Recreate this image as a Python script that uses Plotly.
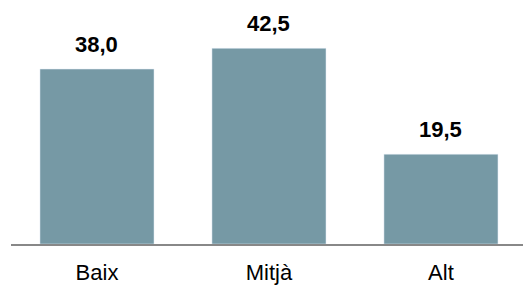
import plotly.graph_objects as go

categories = ["Baix", "Mitjà", "Alt"]
values = [38.0, 42.5, 19.5]

fig = go.Figure(go.Bar(
    x=categories, y=values, marker_color="#7699A5", width=0.663,
    hoverinfo="skip",
))

for c, v in zip(categories, values):
    fig.add_annotation(x=c, y=v, text=f"<b>{v:.1f}</b>".replace(".", ","),
                       showarrow=False, yanchor="bottom", yshift=10,
                       font=dict(family="Liberation Sans, Arial", size=22, color="#000"))

fig.update_layout(
    width=523, height=287, margin=dict(l=11, r=0, t=0, b=43),
    plot_bgcolor="white", paper_bgcolor="white", showlegend=False,
    separators=",.",
    font=dict(family="Liberation Sans, Arial", size=22, color="#000"),
)
fig.update_xaxes(range=[-0.5, 2.477], showline=True, linecolor="#888888", linewidth=2,
                 ticks="outside", ticklen=8, tickcolor="rgba(0,0,0,0)", showgrid=False)
fig.update_yaxes(range=[0, 53], visible=False, showgrid=False)

fig.write_html("out.html", config={"displayModeBar": False},
               post_script="document.body.style.margin='0';")
